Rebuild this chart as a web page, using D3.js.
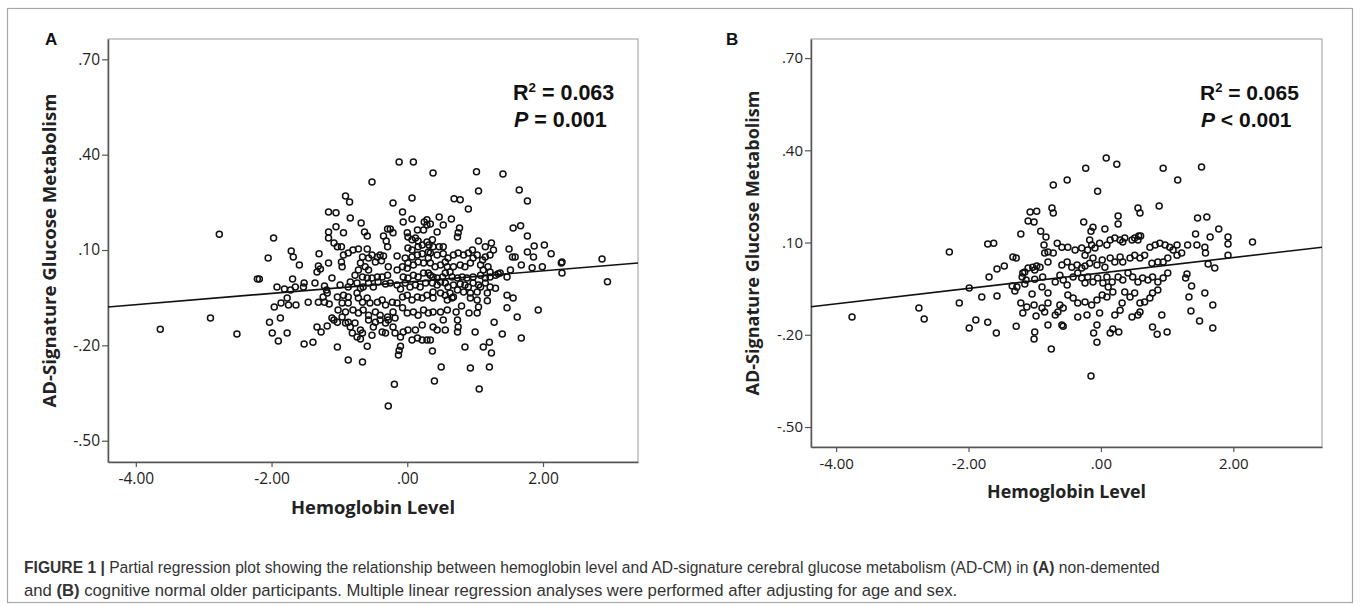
<!DOCTYPE html>
<html lang="en">
<head>
  <meta charset="UTF-8">
  <script src="https://d3js.org/d3.v7.min.js" charset="utf-8"></script>
  <title>Figure 1</title>
  <style>
    body { margin: 0; background: #fff; }
    .tick text { font-family: "Open Sans", "DejaVu Sans", sans-serif; fill: #222; }
    .axis-title { font-family: "Open Sans", "DejaVu Sans", sans-serif; font-weight: bold; fill: #222; }
    .stat { font-family: "Liberation Sans", Arial, sans-serif; font-weight: bold; fill: #111; }
    .caption { font-family: "Liberation Sans", Arial, sans-serif; fill: #333; }
  </style>
</head>
<body>
  <script type="text/javascript">
    // axis ticks (same in both panels)
    var xTicks = [-4, -2, 0, 2];
    var xTickLabels = ["-4.00", "-2.00", ".00", "2.00"];
    var yTicks = [0.70, 0.40, 0.10, -0.20, -0.50];
    var yTickLabels = [".70", ".40", ".10", "-.20", "-.50"];

    // panel A: non-demented, [hemoglobin level, AD-CM residual]
    var pointsA = [
      [-2.77,0.150],[-3.64,-0.149],[-2.90,-0.114],[-2.51,-0.164],
      [-1.16,0.220],[-1.16,0.157],[-1.16,0.138],[-1.08,0.122],[-1.97,0.138],[-2.05,0.075],[-1.71,0.097],[-1.68,0.078],[-1.59,0.053],[-1.30,0.088],[-1.16,0.059],[-1.31,0.050],[-1.28,0.040],[-1.33,0.031],[-2.21,0.009],[-2.18,0.009],[-1.69,0.009],[-1.92,-0.016],[-1.81,-0.023],[-1.72,-0.026],[-1.65,-0.016],[-1.53,-0.016],[-1.52,-0.004],[-1.36,-0.004],[-1.22,-0.013],[-1.11,0.012],[-1.19,-0.026],[-1.18,-0.035],[-1.24,-0.048],[-1.77,-0.051],[-1.96,-0.079],[-1.86,-0.067],[-1.75,-0.073],[-1.64,-0.073],[-1.46,-0.064],[-1.31,-0.064],[-1.22,-0.064],[-1.15,-0.070],[-2.03,-0.127],[-1.87,-0.114],[-1.99,-0.161],[-1.77,-0.161],[-1.90,-0.186],[-1.52,-0.196],[-1.39,-0.190],[-1.33,-0.142],[-1.27,-0.158],[-1.18,-0.139],[-1.11,-0.114],[-1.08,-0.120],
      [-0.12,0.377],[0.09,0.377],[-0.52,0.314],[-0.91,0.270],[-0.85,0.251],[-0.21,0.248],[0.07,0.264],[-1.05,0.217],[-0.84,0.201],[-0.68,0.185],[-0.07,0.220],[-0.06,0.188],[0.07,0.198],[0.25,0.188],[0.29,0.195],[-1.05,0.173],[-0.94,0.154],[-0.63,0.157],[-0.59,0.144],[-0.29,0.166],[-0.25,0.166],[-0.35,0.144],[-0.31,0.128],[-0.29,0.110],[-0.21,0.154],[0.00,0.154],[0.01,0.141],[0.15,0.163],[0.12,0.138],[0.24,0.163],[0.29,0.179],[0.07,0.132],[0.16,0.128],[0.29,0.125],[0.32,0.116],
      [-1.03,0.110],[-0.97,0.110],[-0.87,0.091],[-0.94,0.084],[-0.80,0.100],[-0.72,0.103],[-0.59,0.103],[-0.66,0.078],[-0.57,0.075],[-0.52,0.084],[-0.44,0.078],[-0.40,0.084],[-0.35,0.081],[-0.47,0.062],[-0.38,0.066],[-0.15,0.081],[0.01,0.106],[0.07,0.100],[0.16,0.110],[0.22,0.116],[-0.03,0.075],[0.07,0.078],[0.15,0.084],[0.22,0.088],[0.31,0.094],
      [-0.97,0.062],[-0.96,0.047],[-0.69,0.059],[-0.62,0.047],[-0.57,0.037],[-0.72,0.037],[-0.77,0.021],[-0.66,0.015],[-0.59,0.012],[-0.52,0.012],[-0.44,0.015],[-0.37,0.015],[-0.29,0.021],[-0.28,0.047],[-0.15,0.037],[-0.07,0.047],[0.00,0.043],[0.01,0.059],[0.09,0.053],[0.16,0.062],[0.24,0.059],[0.31,0.075],[-0.06,0.015],[0.01,0.012],[0.09,0.021],[0.16,0.015],[0.24,0.028],[0.31,0.028],
      [-0.84,-0.001],[-0.87,-0.016],[-0.99,-0.010],[-0.74,-0.004],[-0.69,-0.020],[-0.65,-0.016],[-0.57,-0.004],[-0.50,-0.016],[-0.43,-0.001],[-0.32,-0.007],[-0.25,-0.004],[-0.15,-0.010],[-0.10,-0.023],[-0.03,-0.004],[0.04,-0.016],[0.12,-0.010],[0.19,-0.016],[0.27,-0.004],
      [-1.03,-0.048],[-0.94,-0.042],[-0.87,-0.048],[-0.96,-0.067],[-0.87,-0.067],[-0.74,-0.035],[-0.72,-0.051],[-0.66,-0.064],[-0.59,-0.051],[-0.55,-0.067],[-0.44,-0.064],[-0.37,-0.057],[-0.32,-0.073],[-0.22,-0.064],[-0.15,-0.067],[-0.07,-0.048],[0.00,-0.042],[0.07,-0.057],[0.15,-0.048],[0.22,-0.051],[0.29,-0.042],
      [-1.02,-0.089],[-0.91,-0.095],[-0.96,-0.111],[-1.03,-0.127],[-0.91,-0.130],[-0.80,-0.089],[-0.72,-0.098],[-0.65,-0.089],[-0.57,-0.105],[-0.47,-0.095],[-0.40,-0.105],[-0.29,-0.111],[-0.21,-0.095],[-0.18,-0.114],[-0.07,-0.082],[0.00,-0.098],[0.09,-0.095],[0.16,-0.105],[0.24,-0.089],[0.31,-0.098],
      [-0.87,-0.127],[-0.84,-0.142],[-0.77,-0.130],[-0.69,-0.152],[-0.81,-0.161],[-0.74,-0.174],[-0.69,-0.180],[-0.66,-0.161],[-0.57,-0.120],[-0.50,-0.142],[-0.47,-0.127],[-0.40,-0.120],[-0.32,-0.130],[-0.28,-0.120],[-0.52,-0.168],[-0.37,-0.158],[-0.32,-0.161],[-0.21,-0.142],[-0.18,-0.161],[-0.10,-0.174],[-0.06,-0.158],[0.01,-0.152],[0.12,-0.152],[0.22,-0.136],[0.07,-0.183],[0.15,-0.177],[0.22,-0.183],[0.29,-0.183],
      [-1.03,-0.205],[-0.59,-0.203],[-0.10,-0.203],[-0.12,-0.216],[-0.13,-0.230],[-0.87,-0.246],[-0.66,-0.252],[-0.19,-0.322],[-0.28,-0.391],
      [0.38,0.342],[1.02,0.346],[1.41,0.339],[1.05,0.286],[1.65,0.289],[1.77,0.254],[0.69,0.261],[0.78,0.258],[0.90,0.229],[0.47,0.204],[0.65,0.198],[0.34,0.182],[0.53,0.179],[0.44,0.157],[0.77,0.169],[0.75,0.154],[0.74,0.141],[1.56,0.169],[1.67,0.176],[1.77,0.144],
      [0.37,0.132],[0.38,0.110],[0.47,0.110],[0.53,0.110],[1.05,0.128],[1.15,0.110],[1.24,0.122],[1.27,0.100],[1.50,0.103],[1.55,0.078],[1.59,0.078],[1.77,0.094],[1.68,0.053],[1.52,0.037],
      [0.34,0.091],[0.44,0.084],[0.53,0.088],[0.56,0.062],[0.60,0.075],[0.68,0.084],[0.75,0.091],[0.83,0.084],[0.90,0.091],[0.96,0.100],[0.97,0.075],[1.03,0.084],[1.11,0.069],[1.15,0.078],[1.22,0.084],
      [0.34,0.059],[0.41,0.047],[0.49,0.053],[0.59,0.047],[0.63,0.031],[0.56,0.028],[0.68,0.047],[0.78,0.053],[0.85,0.047],[0.93,0.059],[1.08,0.053],[1.12,0.037],[1.19,0.047],[1.22,0.031],[1.37,0.028],[1.34,0.025],[1.47,0.015],
      [0.34,0.021],[0.38,0.015],[0.44,0.012],[0.52,0.015],[0.66,0.015],[0.74,0.012],[0.81,0.015],[0.88,0.012],[0.97,0.015],[1.08,0.021],[1.15,0.012],[1.22,0.015],[1.30,0.021],
      [0.37,-0.004],[0.44,-0.010],[0.49,-0.001],[0.56,-0.004],[0.60,-0.016],[0.68,-0.010],[0.78,-0.007],[0.85,-0.010],[0.90,-0.016],[0.97,-0.004],[1.05,-0.010],[1.15,-0.004],[1.22,-0.016],[1.30,-0.020],
      [0.38,-0.032],[0.49,-0.035],[0.56,-0.042],[0.63,-0.035],[0.68,-0.048],[0.74,-0.026],[0.83,-0.032],[0.93,-0.035],[1.03,-0.032],[1.08,-0.016],[1.18,-0.035],
      [0.38,-0.051],[0.59,-0.057],[0.66,-0.051],[0.80,-0.076],[0.93,-0.051],[1.03,-0.057],[1.18,-0.060],[1.47,-0.042],[1.56,-0.051],
      [0.38,-0.095],[0.49,-0.095],[0.59,-0.089],[0.72,-0.095],[0.74,-0.120],[0.75,-0.142],[0.74,-0.158],[0.91,-0.098],[1.03,-0.098],[1.05,-0.079],[1.47,-0.082],[1.28,-0.127],[1.62,-0.111],
      [0.38,-0.142],[0.53,-0.120],[0.56,-0.152],[0.44,-0.152],[0.34,-0.183],[0.37,-0.218],[1.00,-0.158],[1.40,-0.164],[1.68,-0.177],[0.85,-0.205],[1.12,-0.205],[1.21,-0.190],[1.24,-0.224],
      [0.50,-0.268],[0.93,-0.271],[1.21,-0.268],[0.40,-0.312],[1.06,-0.337],
      [1.87,0.113],[2.02,0.116],[1.86,0.078],[2.12,0.088],[2.27,0.059],[2.28,0.062],[2.28,0.028],[1.99,0.047],[1.84,0.044],[2.87,0.072],[2.95,0.000],[1.93,-0.089]
    ];

    // panel B: cognitively normal
    var pointsB = [
      [-3.76,-0.142],[-2.75,-0.113],[-2.67,-0.149],[-2.29,0.069],[-1.99,-0.048],[-2.14,-0.097],[-1.80,-0.077],[-1.57,-0.074],[-1.89,-0.152],[-1.99,-0.178],[-1.71,-0.159],[-1.58,-0.194],[-1.28,-0.172],[-1.69,-0.012],[-1.57,0.014],[-1.46,0.024],[-1.71,0.095],[-1.62,0.098],[-1.33,0.053],[-1.28,0.050],[-1.21,0.128],[-1.07,0.199],[-0.97,0.202],[-1.10,0.170],[-1.01,0.167],
      [-1.18,0.001],[-1.15,0.004],[-1.10,0.017],[-1.03,0.020],[-0.97,0.024],[-1.19,-0.012],[-1.13,-0.022],[-1.15,-0.035],[-1.27,-0.045],[-1.34,-0.041],[-1.30,-0.058],[-1.00,-0.019],[-1.04,-0.067],[-1.21,-0.097],[-1.12,-0.110],[-1.01,-0.103],[-1.18,-0.129],[-0.98,-0.139],[-1.00,-0.191],[-1.01,-0.214],
      [0.08,0.375],[0.24,0.355],[-0.23,0.342],[0.94,0.342],[-0.51,0.303],[-0.72,0.287],[-0.05,0.267],[-0.74,0.212],[-0.72,0.196],[0.56,0.212],[0.59,0.196],[0.88,0.219],[-0.26,0.167],[0.26,0.186],[0.26,0.160],[-0.15,0.137],[-0.12,0.150],[0.06,0.144],[-0.17,0.108],[-0.91,0.137],[-0.83,0.118],[0.57,0.121],
      [-0.66,0.098],[-0.59,0.085],[-0.50,0.085],[-0.86,0.092],[-0.80,0.069],[-0.85,0.066],[-0.39,0.076],[-0.29,0.082],[-0.20,0.076],[-0.24,0.059],[-0.14,0.092],[-0.09,0.082],[-0.02,0.098],[0.09,0.092],[0.14,0.108],[0.21,0.115],[0.29,0.108],[0.33,0.102],[0.36,0.115],[0.47,0.108],[0.51,0.115],[0.56,0.108],[0.60,0.121],[0.74,0.085],[0.82,0.092],[0.89,0.098],[0.97,0.092],[1.04,0.085],[1.09,0.076],
      [-0.72,0.066],[-0.80,0.037],[-0.92,0.020],[-1.00,0.011],[-0.88,-0.012],[-0.59,0.027],[-0.51,0.037],[-0.44,0.020],[-0.36,0.027],[-0.29,0.017],[-0.24,0.024],[-0.17,0.033],[-0.12,0.050],[-0.06,0.027],[0.02,0.043],[0.06,0.020],[0.14,0.050],[0.21,0.037],[0.29,0.053],[0.33,0.037],[0.44,0.050],[0.51,0.059],[0.59,0.050],[0.66,0.059],[0.77,0.033],[0.86,0.037],[0.94,0.037],[1.01,0.050],
      [-0.89,-0.045],[-0.80,-0.064],[-0.69,-0.028],[-0.62,-0.006],[-0.57,-0.022],[-0.51,-0.038],[-0.42,-0.012],[-0.35,0.001],[-0.29,-0.015],[-0.24,-0.032],[-0.20,-0.012],[-0.12,-0.028],[-0.05,-0.015],[0.03,-0.032],[0.09,-0.012],[0.17,-0.028],[0.26,-0.012],[0.33,-0.022],[0.41,0.001],[0.48,-0.012],[0.56,-0.028],[0.63,-0.015],[0.71,-0.022],[0.78,-0.012],[0.86,-0.028],[0.94,-0.015],[1.01,0.001],
      [-0.89,-0.113],[-0.80,-0.097],[-0.85,-0.126],[-0.69,-0.136],[-0.62,-0.103],[-0.57,-0.113],[-0.65,-0.126],[-0.50,-0.071],[-0.42,-0.080],[-0.35,-0.097],[-0.24,-0.093],[-0.14,-0.103],[-0.06,-0.087],[0.02,-0.071],[0.09,-0.077],[0.11,-0.045],[0.18,-0.061],
      [-0.35,-0.142],[-0.21,-0.136],[-0.02,-0.129],[0.21,-0.136],[0.29,-0.120],[0.32,-0.097],[0.36,-0.061],[0.44,-0.077],[0.51,-0.064],[0.59,-0.097],[0.66,-0.093],[0.74,-0.080],[0.78,-0.064],[0.86,-0.054],[0.47,-0.142],[0.56,-0.136],[0.59,-0.126],[0.92,-0.136],
      [-0.80,-0.168],[-0.59,-0.168],[-0.57,-0.172],[-0.06,-0.168],[-0.11,-0.194],[-0.06,-0.224],[0.14,-0.194],[0.18,-0.181],[0.27,-0.191],[0.78,-0.175],[0.85,-0.198],[1.00,-0.191],[-0.75,-0.246],[-0.15,-0.334],
      [1.52,0.346],[1.16,0.303],[1.46,0.180],[1.60,0.183],[1.78,0.144],[1.43,0.128],[1.65,0.118],[1.92,0.118],[1.92,0.095],[1.92,0.059],[2.29,0.102],[1.31,0.092],[1.45,0.092],[1.57,0.085],[1.58,0.066],[1.15,0.092],[1.22,0.066],[1.15,0.059],[1.62,0.030],[1.72,0.017],[1.30,-0.002],[1.28,-0.015],[1.37,-0.041],[1.57,-0.064],[1.33,-0.077],[1.69,-0.103],[1.36,-0.123],[1.49,-0.155],[1.69,-0.178]
    ];

    // fitted lines: [slope, intercept]
    var fitA = [0.0177, -0.001];
    var fitB = [0.0251, 0.001];
    var r2Values = ["0.063", "0.065"];
    var pValues = ["= 0.001", "< 0.001"];

    var captionLine1 = [
      ["FIGURE 1 |", true], [" Partial regression plot showing the relationship between hemoglobin level and AD-signature cerebral glucose metabolism (AD-CM) in ", false],
      ["(A)", true], [" non-demented", false]
    ];
    var captionLine2 = [
      ["and ", false], ["(B)", true], [" cognitive normal older participants. Multiple linear regression analyses were performed after adjusting for age and sex.", false]
    ];

    var W = 1360, H = 606;
    var svg = d3.select("body").append("svg")
      .attr("width", W)
      .attr("height", H);

    // outer figure frame
    svg.append("rect")
      .attr("x", 7.5).attr("y", 8.5)
      .attr("width", 1345).attr("height", 594)
      .attr("fill", "none")
      .attr("stroke", "#a8a8a8")
      .attr("stroke-width", 1.2);

    var panels = [
      { letter: "A", pts: pointsA, fit: fitA, r2: r2Values[0], p: pValues[0],
        left: 108, right: 638, top: 39, bottom: 462, xDom: [-4.41, 3.40], yDom: [-0.567, 0.764],
        letterX: 45, statX: 513, yTitleX: 56, xTitleY: 514, tickFont: 15.5, titleFont: 18.5, statFont: 21.5,
        yTitleLen: 314, xTitleLen: 164 },
      { letter: "B", pts: pointsB, fit: fitB, r2: r2Values[1], p: pValues[1],
        left: 811, right: 1322, top: 39, bottom: 447, xDom: [-4.38, 3.34], yDom: [-0.565, 0.762],
        letterX: 726, statX: 1200, yTitleX: 759, xTitleY: 498, tickFont: 15, titleFont: 18, statFont: 21,
        yTitleLen: 305, xTitleLen: 159 }
    ];

    panels.forEach(function (p) {
      var x = d3.scaleLinear().domain(p.xDom).range([p.left, p.right]);
      var y = d3.scaleLinear().domain(p.yDom).range([p.bottom, p.top]);

      // box (top/right lighter)
      svg.append("rect")
        .attr("x", p.left).attr("y", p.top)
        .attr("width", p.right - p.left).attr("height", p.bottom - p.top)
        .attr("fill", "none").attr("stroke", "#9a9a9a").attr("stroke-width", 1);

      var xAxis = d3.axisBottom(x)
        .tickValues(xTicks)
        .tickFormat(function (d, i) { return xTickLabels[i]; })
        .tickSize(5).tickSizeOuter(0).tickPadding(6);
      var gx = svg.append("g")
        .attr("transform", "translate(0," + p.bottom + ")")
        .call(xAxis);

      var yAxis = d3.axisLeft(y)
        .tickValues(yTicks)
        .tickFormat(function (d, i) { return yTickLabels[i]; })
        .tickSize(6).tickSizeOuter(0).tickPadding(2);
      var gy = svg.append("g")
        .attr("transform", "translate(" + p.left + ",0)")
        .call(yAxis);

      [gx, gy].forEach(function (g) {
        g.select(".domain").attr("stroke", "#555").attr("stroke-width", 1.5);
        g.selectAll(".tick line").attr("stroke", "#555").attr("stroke-width", 1.2);
        g.selectAll(".tick text").attr("font-size", p.tickFont);
      });

      // regression line
      var line = d3.line()
        .x(function (d) { return x(d); })
        .y(function (d) { return y(p.fit[0] * d + p.fit[1]); });
      svg.append("path")
        .datum(p.xDom)
        .attr("d", line)
        .attr("fill", "none")
        .attr("stroke", "#111")
        .attr("stroke-width", 1.6);

      // points
      svg.append("g").selectAll("circle")
        .data(p.pts)
        .enter()
        .append("circle")
        .attr("cx", function (d) { return x(d[0]); })
        .attr("cy", function (d) { return y(d[1]); })
        .attr("r", 3)
        .attr("fill", "none")
        .attr("stroke", "#111")
        .attr("stroke-width", 1.5);

      // panel letter
      svg.append("text")
        .attr("x", p.letterX).attr("y", 45)
        .attr("font-family", "Liberation Sans, Arial, sans-serif")
        .attr("font-weight", "bold")
        .attr("font-size", 17)
        .attr("fill", "#111")
        .text(p.letter);

      // stats
      var t1 = svg.append("text").attr("class", "stat")
        .attr("x", p.statX).attr("y", 100).attr("font-size", p.statFont);
      t1.append("tspan").text("R");
      t1.append("tspan").attr("font-size", p.statFont * 0.62).attr("dy", -8).text("2");
      t1.append("tspan").attr("dy", 8).text(" = " + p.r2);
      var t2 = svg.append("text").attr("class", "stat")
        .attr("x", p.statX + 1).attr("y", 127).attr("font-size", p.statFont);
      t2.append("tspan").attr("font-style", "italic").text("P");
      t2.append("tspan").text(" " + p.p);

      // axis titles
      svg.append("text").attr("class", "axis-title")
        .attr("x", (p.left + p.right) / 2).attr("y", p.xTitleY)
        .attr("text-anchor", "middle")
        .attr("font-size", p.titleFont)
        .attr("textLength", p.xTitleLen).attr("lengthAdjust", "spacingAndGlyphs")
        .text("Hemoglobin Level");
      svg.append("text").attr("class", "axis-title")
        .attr("transform", "translate(" + p.yTitleX + "," + (p.top + p.bottom) / 2 + ") rotate(-90)")
        .attr("text-anchor", "middle")
        .attr("font-size", p.titleFont)
        .attr("textLength", p.yTitleLen).attr("lengthAdjust", "spacingAndGlyphs")
        .text("AD-Signature Glucose Metabolism");
    });

    // caption: a condensed look, squeezed to the reference width
    function captionLine(parts, yPos, len) {
      var g = svg.append("g");
      var t = g.append("text").attr("class", "caption")
        .attr("x", 0).attr("y", 0)
        .attr("font-size", 17);
      parts.forEach(function (s) {
        t.append("tspan").attr("font-weight", s[1] ? "bold" : "normal").text(s[0]);
      });
      var k = len / t.node().getComputedTextLength();
      g.attr("transform", "translate(24," + yPos + ") scale(" + k + ",1)");
    }
    captionLine(captionLine1, 573, 1136);
    captionLine(captionLine2, 596, 934);
  </script>
</body>
</html>
